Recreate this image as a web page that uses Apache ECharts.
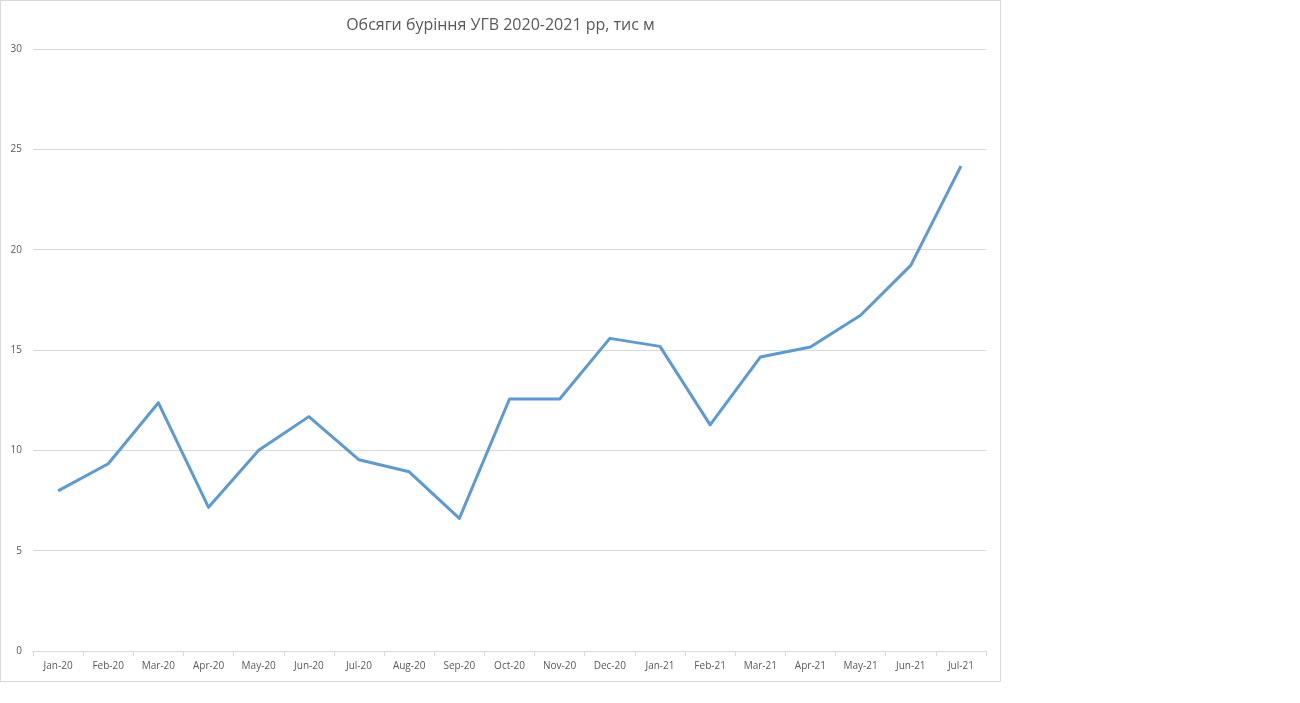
<!DOCTYPE html>
<html>
<head>
<meta charset="utf-8">
<script src="https://cdn.jsdelivr.net/npm/echarts@6/dist/echarts.min.js"></script>
<style>
    html, body { margin: 0; padding: 0; background: #fff; }
    #chartLine { position: absolute; left: 0; top: 0; width: 999px; height: 680px; border: 1px solid #d9d9d9; }
</style>
</head>
<body>
<div id="chartLine"></div>
<script>
// місяці
const categories = ['Jan-20', 'Feb-20', 'Mar-20', 'Apr-20', 'May-20', 'Jun-20', 'Jul-20', 'Aug-20', 'Sep-20', 'Oct-20',
    'Nov-20', 'Dec-20', 'Jan-21', 'Feb-21', 'Mar-21', 'Apr-21', 'May-21', 'Jun-21', 'Jul-21'];
// обсяги буріння, тис м
const drilling = [7.98, 9.33, 12.37, 7.16, 10.0, 11.68, 9.53, 8.93, 6.61, 12.56,
    12.56, 15.58, 15.18, 11.27, 14.65, 15.15, 16.73, 19.22, 24.16];

const textColor = '#595959';
const fontFamily = 'Open Sans, sans-serif';

const chartLine = echarts.init(document.getElementById('chartLine'));
const option = {
    animation: false,
    title: {
        text: 'Обсяги буріння УГВ 2020-2021 рр, тис м',
        left: 'center',
        top: 11,
        textStyle: {
            color: textColor,
            fontFamily: fontFamily,
            fontWeight: 'normal',
            fontSize: 16
        }
    },
    grid: {
        left: 32,
        top: 48,
        width: 953,
        height: 602
    },
    xAxis: {
        type: 'category',
        data: categories,
        boundaryGap: true,
        axisLine: {
            show: true,
            lineStyle: { color: '#d9d9d9', width: 1 }
        },
        axisTick: {
            show: true,
            alignWithLabel: false,
            length: 5,
            lineStyle: { color: '#d9d9d9' }
        },
        axisLabel: {
            color: textColor,
            fontFamily: fontFamily,
            fontSize: 10,
            margin: 10,
            interval: 0
        }
    },
    yAxis: {
        type: 'value',
        min: 0,
        max: 30,
        interval: 5,
        axisLine: { show: false },
        axisTick: { show: false },
        splitLine: {
            show: true,
            lineStyle: { color: '#d9d9d9', width: 1 }
        },
        axisLabel: {
            color: textColor,
            fontFamily: fontFamily,
            fontSize: 10,
            margin: 11
        }
    },
    series: [
        {
            name: 'Обсяги буріння',
            type: 'line',
            data: drilling,
            symbol: 'none',
            lineStyle: { color: '#5b9bd5', width: 3, join: 'round' },
            itemStyle: { color: '#5b9bd5' }
        }
    ]
};
chartLine.setOption(option);
</script>
</body>
</html>
